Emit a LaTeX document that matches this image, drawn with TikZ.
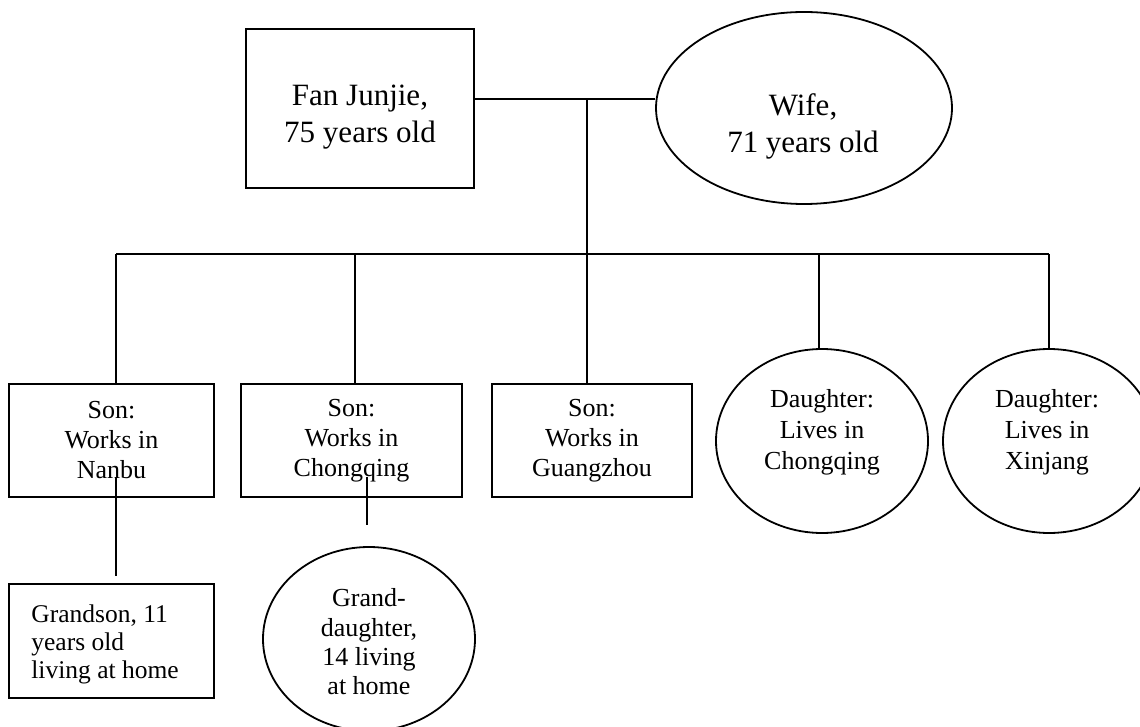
\documentclass[tikz,border=0pt]{standalone}
\usepackage{fontspec}
\setmainfont{Liberation Serif}
\usetikzlibrary{shapes.geometric}
\tikzset{
  box/.style={draw, line width=0.9pt, rectangle, inner sep=0pt},
  oval/.style={draw, line width=0.9pt, ellipse, inner sep=0pt},
  link/.style={line width=0.75pt},
  bigtext/.style={font=\fontsize{15.5}{18.5}\selectfont, align=center, inner sep=0pt},
  smalltext/.style={font=\fontsize{13}{15}\selectfont, align=center, inner sep=0pt},
  ovaltext/.style={font=\fontsize{13}{15.5}\selectfont, align=center, inner sep=0pt},
}
\begin{document}
\begin{tikzpicture}[x=0.5pt,y=-0.5pt]
\useasboundingbox (0,0) rectangle (1140,727);
\clip (0,0) rectangle (1140,727);

% parents
\node[box, minimum width=114pt, minimum height=79.5pt] (fan) at (360,108.5) {};
\node[bigtext] (fantext) at (360,117.5) {Fan Junjie,\\75 years old};
\node[oval, minimum width=148pt, minimum height=96pt] (wife) at (804,108) {};
\node[bigtext] (wifetext) at (803,126) {Wife,\\71 years old};

% children
\node[box, smalltext, minimum width=102.5pt, minimum height=56.5pt] (s1) at (111.5,440.5) {Son:\\Works in\\Nanbu};
\node[box, smalltext, minimum width=110.5pt, minimum height=56.5pt] (s2) at (351.5,440.5) {Son:\\Works in\\Chongqing};
\node[box, smalltext, minimum width=100pt, minimum height=56.5pt] (s3) at (592,440.5) {Son:\\Works in\\Guangzhou};
\node[oval, minimum width=106pt, minimum height=92pt] (d1) at (822,441) {};
\node[ovaltext] (d1text) at (822,432) {Daughter:\\Lives in\\Chongqing};
\node[oval, minimum width=106pt, minimum height=92pt] (d2) at (1049,441) {};
\node[ovaltext] (d2text) at (1047,432) {Daughter:\\Lives in\\Xinjang};

% grandchildren
\node[box, minimum width=102.5pt, minimum height=57pt] (g1) at (111.5,641) {};
\node[font=\fontsize{12.75}{14}\selectfont, align=left, inner sep=0pt, anchor=west] (g1text) at (31,644) {Grandson, 11\\years old\\living at home};
\node[oval, minimum width=106pt, minimum height=92pt] (g2) at (369,639) {};
\begin{scope}
  \clip (250,540) rectangle (490,697);
  \node[font=\fontsize{13}{14.65}\selectfont, align=center, inner sep=0pt] (g2text) at (369,642) {Grand-\\daughter,\\14 living\\at home};
\end{scope}

% junction points
\coordinate (mid) at (587,99);
\coordinate (b1) at (116,254);
\coordinate (b2) at (355,254);
\coordinate (b3) at (587,254);
\coordinate (b4) at (819,254);
\coordinate (b5) at (1049,254);
\coordinate (c1) at (116,477);
\coordinate (c1e) at (116,576);
\coordinate (c2) at (367,477);
\coordinate (c2e) at (367,525);

% connectors
\draw[link] (mid -| fan.east) -- (mid -| wife.west);
\draw[link] (mid) -- (b3 |- s3.north);
\draw[link] (b1) -- (b5);
\draw[link] (b1) -- (b1 |- s1.north);
\draw[link] (b2) -- (b2 |- s2.north);
\draw[link] (b4) -- (b4 |- d1.north);
\draw[link] (b5) -- (b5 |- d2.north);
\draw[link] (c1) -- (c1e);
\draw[link] (c2) -- (c2e);
\end{tikzpicture}
\end{document}
